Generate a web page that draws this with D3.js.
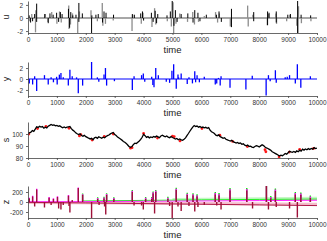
<!DOCTYPE html>
<html>
<head>
<meta charset="utf-8">
<script src="https://cdn.jsdelivr.net/npm/d3@7"></script>
<style>
body { margin: 0; background: #fff; }
svg { display: block; font-family: "Liberation Sans", Arial, sans-serif; }
</style>
</head>
<body>
<div class="graphic"></div>
<script>
// ---- data ----
var timeTicks = [0, 1000, 2000, 3000, 4000, 5000, 6000, 7000, 8000, 9000, 10000];

// u : two spike trains, [time, value]
var uGray = [[60,-0.5],[130,0.6],[260,-2.2],[270,1.2],[600,0.6],[690,-0.6],[820,0.9],[1000,-0.9],[1090,1.0],[1150,-0.7],
  [1410,1.9],[1420,-1.7],[1470,-1.0],[1540,0.7],[1720,-2.3],[1780,1.0],[2180,1.2],[2400,-0.5],[2570,2.3],[2590,-1.2],
  [2680,-0.9],[2950,-0.4],[3600,-2.0],[3620,0.5],[3920,-0.9],[3980,0.8],[4290,-1.4],[4380,1.5],[4420,-1.0],[4820,-0.5],
  [4960,-1.3],[5020,2.4],[5040,-2.6],[5120,-0.9],[5250,0.7],[5520,-0.6],[5700,0.9],[5760,-1.0],[5900,-0.6],[6100,0.3],
  [6490,0.9],[6560,-0.7],[6620,0.7],[7000,-1.3],[7600,1.9],[7620,-1.3],[7780,0.5],[8280,-1.1],[8330,0.6],[8580,0.7],
  [8600,-0.9],[8950,-0.5],[9060,0.5],[9300,-1.2],[9340,-2.6],[9360,1.8],[9460,-0.8],[9790,-0.5]];
var uBlack = [[40,0.4],[90,-0.7],[160,-0.5],[230,0.6],[300,2.2],[300,-0.6],[580,0.6],[700,-0.8],[760,0.7],[870,0.5],
  [990,0.8],[1060,-0.6],[1120,0.9],[1180,0.6],[1400,1.4],[1440,-1.5],[1480,0.9],[1550,0.4],[1660,0.5],[1760,2.3],
  [1760,-0.6],[1880,0.7],[2200,-2.4],[2210,0.4],[2350,0.5],[2430,0.6],[2580,-0.7],[2630,1.0],[2700,0.8],[2960,0.5],
  [3610,0.6],[3680,0.5],[3900,0.7],[3960,1.0],[4000,-0.4],[4270,0.8],[4330,-0.6],[4400,1.1],[4450,-0.8],[4490,0.6],
  [4810,0.4],[4925,1.0],[4990,2.8],[5050,-1.2],[5100,1.2],[5160,-0.6],[5300,0.6],[5530,0.7],[5710,-0.7],[5770,1.2],
  [5880,0.8],[5950,-0.5],[6170,0.5],[6520,0.5],[6610,1.0],[6690,-0.6],[7040,1.4],[7040,-1.4],[7810,0.9],[7810,-0.5],
  [8290,1.0],[8290,-1.1],[8340,0.8],[8590,1.0],[8590,-0.7],[8990,0.5],[9080,0.6],[9330,2.7],[9330,-2.5],[9450,0.5],[9780,0.4]];

// y : blue spike train
var ySpikes = [[45,-0.8],[160,-1.0],[230,0.5],[300,-2.2],[570,0.7],[700,-1.0],[800,0.3],[880,-0.6],[990,0.4],[1010,-1.0],
  [1085,0.8],[1140,1.1],[1220,0.3],[1395,-1.2],[1450,1.7],[1530,0.5],[1680,0.3],[1740,-2.6],[1890,-1.2],[2200,3.1],
  [2400,0.3],[2450,-0.5],[2630,0.8],[2680,2.0],[2720,-1.2],[2990,-0.4],[3610,-2.0],[3670,0.5],[3930,0.7],[3990,1.0],
  [4040,-0.5],[4280,0.4],[4320,-1.1],[4360,-1.5],[4420,2.0],[4510,0.7],[4785,-0.5],[4900,-0.7],[4980,1.5],[5040,2.7],
  [5130,-1.8],[5190,0.8],[5210,0.3],[5300,1.0],[5510,-0.9],[5570,0.3],[5690,-0.8],[5770,1.4],[5800,-0.6],[5850,0.7],
  [5930,-0.6],[6100,0.4],[6480,-1.0],[6530,-0.8],[6590,0.2],[6650,-1.2],[6680,0.5],[6990,-1.6],[7540,-1.9],[7760,0.6],
  [8240,-3.0],[8320,0.7],[8380,-0.4],[8560,1.6],[8590,-0.7],[8900,0.3],[8970,0.4],[9050,0.7],[9250,-0.8],[9320,2.7],
  [9440,-1.6],[9770,0.5]];

// s : slow signal (black) and red estimate points
var sTime = [0,100,150,200,250,300,350,400,450,500,550,600,650,700,750,800,850,900,950,1000,1050,1100,1150,1200,1250,
  1300,1350,1400,1450,1500,1550,1600,1650,1700,1750,1800,1850,1900,1950,2000,2050,2100,2150,2200,2250,2300,2350,2400,
  2450,2500,2550,2600,2650,2700,2750,2800,2850,2900,2950,3000,3050,3100,3150,3200,3250,3300,3350,3400,3450,3500,3550,
  3600,3650,3700,3750,3800,3850,3900,3950,4000,4050,4100,4150,4200,4250,4300,4350,4400,4450,4500,4550,4600,4650,4700,
  4750,4800,4850,4900,4950,5000,5050,5100,5150,5200,5250,5300,5350,5400,5450,5500,5550,5600,5650,5700,5750,5800,5850,
  5900,5950,6000,6050,6100,6150,6200,6250,6300,6350,6400,6450,6500,6550,6600,6650,6700,6750,6800,6850,6900,6950,7000,
  7050,7100,7150,7200,7250,7300,7350,7400,7450,7500,7550,7600,7650,7700,7750,7800,7850,7900,7950,8000,8050,8100,8150,
  8200,8250,8300,8350,8400,8450,8500,8550,8600,8650,8700,8750,8800,8850,8900,8950,9000,9050,9100,9150,9200,9250,9300,
  9350,9400,9450,9500,9550,9600,9650,9700,9750,9800,9850,9900,9950,10000];
var sBlack = [100.5,101.5,102.8,102.2,104,106,105.5,106.5,105.8,106.2,104.8,105.6,105,106.5,107.2,108,107.3,107.6,106.8,
  107.2,106.4,106.8,105.9,105.2,105.8,105.1,105.7,106,106.3,104.5,103.2,102.4,101,100.2,99.6,100.1,98.7,98.2,98.9,97.8,
  97.2,96.5,95.9,96.4,95.2,96.8,97.3,96.4,97.6,97.1,96.5,97.3,96.8,97.9,98.6,99.2,100.1,100.8,101.3,99.5,98.7,97.4,96.6,
  95.8,94.9,93.8,93.1,92.2,90.8,89.4,88.9,89.6,91.3,92.4,92.0,93.1,94.2,95.5,97.3,99.8,98.6,97.2,97.8,96.8,97.6,97.1,
  98.0,97.4,98.3,97.6,96.9,98.4,99.0,98.2,97.6,98.3,97.4,96.9,97.8,97.1,96.5,95.8,96.3,95.2,95.9,95.1,94.8,95.6,96.8,
  98.6,100.4,102.3,104.1,105.8,107.1,106.3,106.6,105.7,106.2,105.4,105.8,105.1,105.6,104.7,105.3,103.2,101.9,101.2,
  100.4,99.1,98.6,99.3,97.8,97.2,96.4,96.9,95.6,95.1,94.6,94.1,94.8,93.6,93.1,92.4,93.0,92.1,92.5,91.4,91.8,90.7,90.2,
  90.8,89.6,89.9,89.1,88.8,89.6,90.2,90.0,89.2,90.1,91.0,90.3,89.2,88.4,87.9,87.2,86.4,85.2,84.6,83.9,83.2,82.5,81.6,
  82.3,81.9,82.7,83.8,83.2,84.4,85.6,85.1,84.8,85.4,84.7,85.9,85.2,86.5,85.8,87.4,86.6,87.5,86.9,87.8,87.1,88.0,87.4,
  88.6,87.8,88.2];
var sRed = [[30,100],[330,104.5],[620,106.4],[1420,104.8],[1780,98.4],[1830,99.5],[2220,95.0],[2640,97.9],[2950,100.0],
  [3550,88.2],[3600,88.6],[4000,100.4],[4480,96.6],[5000,98.2],[5060,97.8],[5260,94.2],[6020,104.6],[6640,99.0],
  [7080,93.8],[7590,89.6],[8200,86.9],[8230,85.2],[8690,81.0],[9040,84.9],[9400,87.2],[9880,87.9]];

// z : crimson spike train, coloured tips, and slow offset lines
var zSpikes = [[45,70],[160,110],[230,-90],[300,250],[570,-110],[730,85],[800,-60],[880,60],[1020,100],[1060,-130],
  [1140,-150],[1220,-60],[1400,125],[1420,-80],[1450,-210],[1530,40],[1740,280],[1890,140],[2200,-340],[2410,60],
  [2460,-60],[2630,70],[2650,-90],[2690,-250],[2720,140],[2970,60],[3610,200],[3670,-70],[3930,-70],[3990,-150],
  [4070,60],[4280,60],[4330,170],[4380,-230],[4420,200],[4840,60],[4900,-80],[4990,-330],[5130,240],[5190,-90],
  [5300,-180],[5510,140],[5570,-80],[5710,130],[5770,-190],[5850,110],[5880,-100],[6100,-60],[6480,150],[6530,-70],
  [6610,130],[6680,-150],[6990,230],[7570,230],[7770,-130],[8250,340],[8320,-150],[8400,70],[8560,220],[8590,-100],
  [9050,-130],[9250,150],[9320,-310],[9440,140],[9770,80]];
var zMagentaTips = [[45,85],[160,125],[300,265],[730,100],[880,75],[1020,115],[1400,140],[1740,290],[1890,155],
  [2410,80],[2630,90],[2720,160],[2970,80],[3610,225],[4070,85],[4280,85],[4330,195],[4420,225],[4840,85],[5130,265],
  [5510,165],[5710,155],[5850,135],[6480,180],[6610,160],[6990,260],[7570,260],[8250,370],[8400,100],[8560,250],
  [9250,180],[9440,170],[9770,110]];
var zGreenTips = [[1890,170],[2410,95],[2630,105],[2720,175],[2970,95],[3610,240],[4070,100],[4280,100],[4330,210],
  [4420,240],[4840,105],[5130,285],[5510,185],[5710,175],[5850,155],[6480,200],[6610,180],[6990,280],[7570,280],
  [8250,390],[8400,120],[8560,270],[9250,200],[9440,190],[9770,130]];
var zGreenBand = [[5000,55],[7000,65],[10000,80]];
var zGreen = [[1900,20],[4000,32],[6000,42],[8000,52],[10000,58]];
var zMagenta = [[0,5],[2000,8],[5000,18],[8000,28],[10000,35]];
var zPink = [[0,-10],[3000,-18],[6000,-30],[10000,-45]];
var zRed = [[0,-8],[2000,-18],[5000,-38],[8000,-58],[10000,-72]];

// ---- layout ----
var svg_width = 327, svg_height = 241;
var svg = d3.select(".graphic").append("svg")
  .attr("width", svg_width)
  .attr("height", svg_height);

var x = d3.scaleLinear().domain([0, 10000]).range([28, 317]);

var panels = [
  {name: "u", bottom: 33, top: 1, domain: [-2.3, 2.6], ticks: [-2, 0, 2]},
  {name: "y", bottom: 96, top: 62, domain: [-3.1, 3.1], ticks: [-2, 0, 2]},
  {name: "s", bottom: 158, top: 122, domain: [80, 110], ticks: [80, 90, 100]},
  {name: "z", bottom: 218, top: 186, domain: [-320, 320], ticks: [-200, 0, 200]}
];

panels.forEach(function(p, i) {
  p.y = d3.scaleLinear().domain(p.domain).range([p.bottom, p.top]);
  svg.append("clipPath").attr("id", "clip" + i)
    .append("rect")
    .attr("x", x(0)).attr("y", p.top)
    .attr("width", x(10000) - x(0)).attr("height", p.bottom - p.top);
  p.g = svg.append("g").attr("clip-path", "url(#clip" + i + ")");
});

function stems(g, y, data, color, width, base) {
  g.append("g").selectAll("line")
    .data(data)
    .enter()
    .append("line")
    .attr("x1", function(d){ return x(d[0]); })
    .attr("x2", function(d){ return x(d[0]); })
    .attr("y1", y(base || 0))
    .attr("y2", function(d){ return y(d[1]); })
    .attr("stroke", color)
    .attr("stroke-width", width);
}

function path(g, y, data, color, width) {
  g.append("path")
    .datum(data)
    .attr("d", d3.line().x(function(d){ return x(d[0]); }).y(function(d){ return y(d[1]); }))
    .attr("fill", "none")
    .attr("stroke", color)
    .attr("stroke-width", width);
}

// u
var pu = panels[0];
path(pu.g, pu.y, [[0, 0], [10000, 0]], "#8a8a8a", 1.6);
stems(pu.g, pu.y, uGray, "#8c8c8c", 1.3);
stems(pu.g, pu.y, uBlack, "#000", 1);

// y
var py = panels[1];
path(py.g, py.y, [[0, 0], [10000, 0]], "#0000ff", 1.2);
stems(py.g, py.y, ySpikes, "#0000ff", 1.3);

// s
var ps = panels[2];
ps.g.append("g").selectAll("circle")
  .data(sRed)
  .enter()
  .append("circle")
  .attr("cx", function(d){ return x(d[0]); })
  .attr("cy", function(d){ return ps.y(d[1]); })
  .attr("r", 1.4)
  .attr("fill", "#ff1a1a");
path(ps.g, ps.y, sTime.map(function(t, i){ return [t, sBlack[i]]; }), "#000", 1.3);

// z
var pz = panels[3];
path(pz.g, pz.y, zGreenBand, "#c4f7c4", 2.5);
path(pz.g, pz.y, zPink, "#f4bccb", 3);
stems(pz.g, pz.y, zGreenTips, "#00ee00", 1.4);
stems(pz.g, pz.y, zMagentaTips, "#ff00ff", 1.4);
path(pz.g, pz.y, zGreen, "#22ee22", 1);
path(pz.g, pz.y, zMagenta, "#ff22ff", 1);
path(pz.g, pz.y, zRed, "#b01848", 1);
stems(pz.g, pz.y, zSpikes, "#9e1139", 1.4);

// axes and labels
panels.forEach(function(p) {
  var ax = svg.append("g")
    .attr("transform", "translate(0," + p.bottom + ")")
    .call(d3.axisBottom(x).tickValues(timeTicks).tickSize(2).tickSizeOuter(0).tickFormat(function(d){ return String(d); }));
  var ay = svg.append("g")
    .attr("transform", "translate(" + x(0) + ",0)")
    .call(d3.axisLeft(p.y).tickValues(p.ticks).tickSize(2).tickSizeOuter(0).tickFormat(function(d){ return String(d); }));
  [ax, ay].forEach(function(a) {
    a.attr("font-family", "Liberation Sans, Arial, sans-serif").attr("font-size", "6.5px");
    a.selectAll("path, line").attr("stroke", "#444").attr("stroke-width", 0.8);
    a.selectAll("text").attr("fill", "#333");
  });
  ax.selectAll("text").attr("dy", "0.6em");

  svg.append("text")
    .attr("x", (x(0) + x(10000)) / 2)
    .attr("y", p.bottom + 20)
    .attr("text-anchor", "middle")
    .attr("font-size", "9.5px")
    .attr("fill", "#222")
    .text("time");

  svg.append("text")
    .attr("transform", "translate(9," + (p.top + p.bottom) / 2 + ") rotate(-90)")
    .attr("text-anchor", "middle")
    .attr("font-size", "9px")
    .attr("fill", "#222")
    .text(p.name);
});
</script>
</body>
</html>
